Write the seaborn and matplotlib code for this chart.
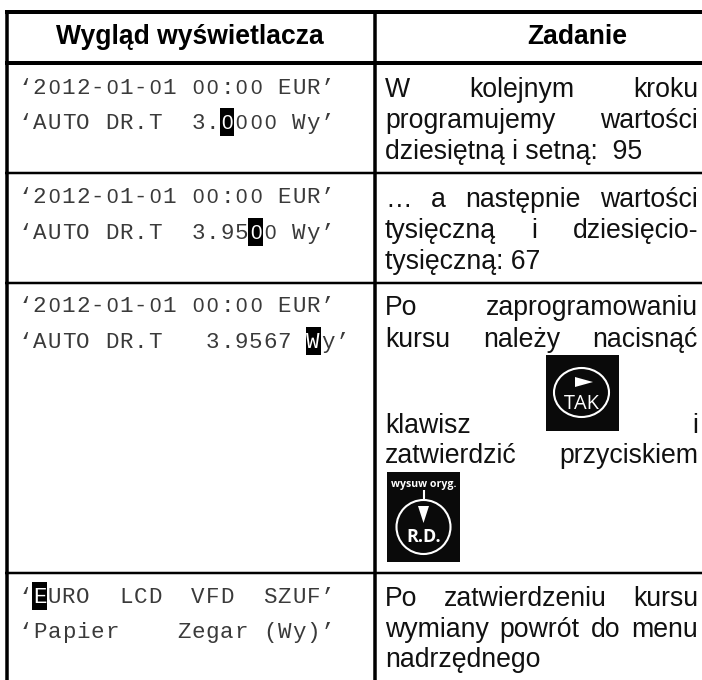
import matplotlib
matplotlib.use("Agg")
import matplotlib.pyplot as plt
from matplotlib.patches import Rectangle, Ellipse, Circle, Polygon
import seaborn as sns

headers = ["Wygląd wyświetlacza", "Zadanie"]

display_lines = [
    "‘2012-01-01 00:00 EUR’",
    "‘AUTO DR.T  3.0000 Wy’",
    "‘2012-01-01 00:00 EUR’",
    "‘AUTO DR.T  3.9500 Wy’",
    "‘2012-01-01 00:00 EUR’",
    "‘AUTO DR.T   3.9567 Wy’",
    "‘EURO  LCD  VFD  SZUF’",
    "‘Papier    Zegar (Wy)’",
]
# which char of which display line is inverted
cursor_line = [1, 3, 5, 6]
cursor_char = [14, 16, 20, 1]

task_lines = [
    ("W kolejnym kroku", True),
    ("programujemy wartości", True),
    ("dziesiętną i setną:  95", False),
    ("… a następnie wartości", True),
    ("tysięczną i dziesięcio-", True),
    ("tysięczną: 67", False),
    ("Po zaprogramowaniu", True),
    ("kursu należy nacisnąć", True),
    ("klawisz i", True),
    ("zatwierdzić przyciskiem", True),
    ("Po zatwierdzeniu kursu", True),
    ("wymiany powrót do menu", True),
    ("nadrzędnego", False),
]

W, H = 702, 680
MONO_Y = [87, 122, 196, 232, 305, 341, 596, 631]
TASK_Y = [97, 128, 159, 207, 238, 269, 315, 347, 433, 463, 606, 637, 667]
CHAR_W = 14.4
MONO_X = 18
TASK_L, TASK_R = 385, 698

px = 72 / 100  # points per pixel at dpi 100

sns.set_theme(style="white")
plt.rcParams["font.family"] = ["Liberation Sans", "DejaVu Sans"]

fig = plt.figure(figsize=(W / 100, H / 100), dpi=100)
ax = fig.add_axes([0, 0, 1, 1])
ax.set_xlim(0, W)
ax.set_ylim(H, 0)
ax.axis("off")


def rule(xs, ys, width):
    sns.lineplot(x=xs, y=ys, ax=ax, color="black", linewidth=width * px,
                 estimator=None, sort=False, solid_capstyle="butt")


# Table rules
rule([4.5, W], [12, 12], 4)
rule([4.5, W], [63, 63], 4)
rule([4.5, W], [173, 173], 2.5)
rule([4.5, W], [283, 283], 2.5)
rule([4.5, W], [573, 573], 2.5)
rule([6.5, 6.5], [10, H], 3.5)
rule([375, 375], [10, H], 3.5)

# Header
ax.text(190, 37, headers[0], ha="center", va="center", fontsize=26.5 * px,
        fontweight="bold", color="black")
ax.text(577.5, 37, headers[1], ha="center", va="center", fontsize=26.5 * px,
        fontweight="bold", color="black")

# Display column, one char at a time so the pitch stays exact
for i, line in enumerate(display_lines):
    y = MONO_Y[i]
    for j, ch in enumerate(line):
        if ch == " ":
            continue
        inverted = any(cl == i and cc == j for cl, cc in zip(cursor_line, cursor_char))
        if inverted:
            ax.add_patch(Rectangle((MONO_X + j * CHAR_W, y - 14), CHAR_W + 0.4, 28,
                                   facecolor="black", edgecolor="none", zorder=2))
        # Liberation Mono has a dotted zero, the display font has a plain one
        font = "Liberation Sans" if ch == "0" else "Liberation Mono"
        ax.text(MONO_X + j * CHAR_W + CHAR_W / 2, y + 7, ch, ha="center", va="baseline",
                family=font, fontsize=(20.5 if ch == "0" else 22.5) * px,
                color="white" if inverted else "#3a3a3a", zorder=3)

# Task column, justified by hand
fig.canvas.draw()
renderer = fig.canvas.get_renderer()
for (line, justify), y in zip(task_lines, TASK_Y):
    if not justify:
        ax.text(TASK_L, y, line, ha="left", va="baseline", fontsize=26.6 * px, color="#111111")
        continue
    words = line.split(" ")
    items = [ax.text(0, y, w, ha="left", va="baseline", fontsize=26.6 * px, color="#111111")
             for w in words]
    inv = ax.transData.inverted()
    widths = []
    for t in items:
        box = t.get_window_extent(renderer).transformed(inv)
        widths.append(box.x1 - box.x0)
    gap = (TASK_R - TASK_L - sum(widths)) / (len(words) - 1)
    x = TASK_L
    for t, w in zip(items, widths):
        t.set_x(x)
        x += w + gap

# TAK key
ax.add_patch(Rectangle((546, 355), 73, 76, facecolor="#0a0a0a", edgecolor="none"))
ax.add_patch(Ellipse((581.5, 392.5), 55, 49, facecolor="none", edgecolor="white", linewidth=1.5))
ax.add_patch(Polygon([(575, 377), (593, 382), (575, 387)], facecolor="white", edgecolor="none"))
ax.text(582, 409, "TAK", ha="center", va="baseline", fontsize=20 * px, color="white",
        family="Open Sans")

# R.D. key
ax.add_patch(Rectangle((387, 472), 73, 90, facecolor="#0a0a0a", edgecolor="none"))
ax.text(423.5, 484, "wysuw oryg.", ha="center", va="center", fontsize=10.5 * px,
        fontweight="bold", color="white", family="Open Sans")
rule_x = [423.5, 423.5]
sns.lineplot(x=rule_x, y=[490, 500], ax=ax, color="white", linewidth=1.5,
             estimator=None, sort=False, solid_capstyle="butt")
ax.add_patch(Circle((423.5, 527), 27, facecolor="none", edgecolor="white", linewidth=1.5))
ax.add_patch(Polygon([(418, 506), (429, 506), (423.5, 523)], facecolor="white", edgecolor="none"))
ax.text(423.5, 542, "R.D.", ha="center", va="baseline", fontsize=18 * px, fontweight="bold",
        color="white", family="Open Sans")

plt.savefig("out.png", dpi=100, facecolor="white")
plt.close()
